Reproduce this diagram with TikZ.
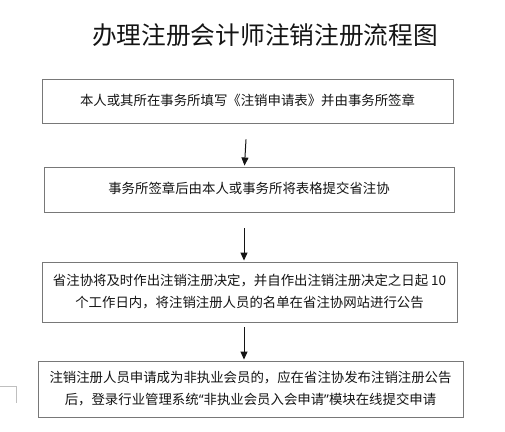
\documentclass[tikz,border=0pt]{standalone}
\usepackage{fontspec}
\setmainfont{Noto Sans CJK SC}
\newfontfamily\lat{Noto Sans}
\usetikzlibrary{arrows.meta,calc}
\definecolor{boxline}{RGB}{120,120,120}
\definecolor{txt}{RGB}{20,20,20}
\tikzset{
  stepbox/.style={draw=boxline,line width=0.9pt,fill=white,text=txt,inner sep=0pt,align=center,font=\fontsize{13.4}{22}\selectfont},
  arr/.style={line width=1pt,draw=txt,-{Triangle[length=8pt,width=7pt]}},
  ttl/.style={text=txt,font=\fontsize{24.7}{28}\selectfont,inner sep=0pt}
}
\begin{document}
\begin{tikzpicture}[x=1pt,y=-1pt]
\useasboundingbox (0,0) rectangle (505,431);
\node[ttl] (title) at (265,35) {办理注册会计师注销注册流程图};
\node[stepbox,minimum width=411pt,minimum height=44pt] (b1) at (247.5,101) {\raisebox{3pt}{本人或其所在事务所填写《注销申请表》并由事务所签章}};
\node[stepbox,minimum width=410pt,minimum height=45pt] (b2) at (249,189.5) {\raisebox{4pt}{事务所签章后由本人或事务所将表格提交省注协}};
\node[stepbox,minimum width=415pt,minimum height=60pt] (b3) at (249.5,292) {省注协将及时作出注销注册决定，并自作出注销注册决定之日起 10\\个工作日内，将注销注册人员的名单在省注协网站进行公告};
\node[stepbox,minimum width=425pt,minimum height=56pt] (b4) at (250.5,389) {注销注册人员申请成为非执业会员的，应在省注协发布注销注册公告\\后，登录行业管理系统{\lat “}非执业会员入会申请{\lat ”}模块在线提交申请};
\draw[arr] ([xshift=-1.5pt,yshift=-16pt]b1.south) -- ([xshift=-3pt,yshift=1pt]b2.north -| b1.south);
\draw[arr] ([xshift=-5pt,yshift=-16pt]b2.south) -- ([xshift=-5pt,yshift=1pt]b3.north -| b2.south);
\draw[arr] ([xshift=-5.5pt,yshift=-5pt]b3.south) -- ([xshift=-5.5pt,yshift=1pt]b4.north -| b3.south);
\coordinate (c1) at (0,386);
\coordinate (c2) at (16,386);
\coordinate (c3) at (16,403);
\draw[line width=0.8pt,draw=black!25] (c1) -- (c2) -- (c3);
\end{tikzpicture}
\end{document}
